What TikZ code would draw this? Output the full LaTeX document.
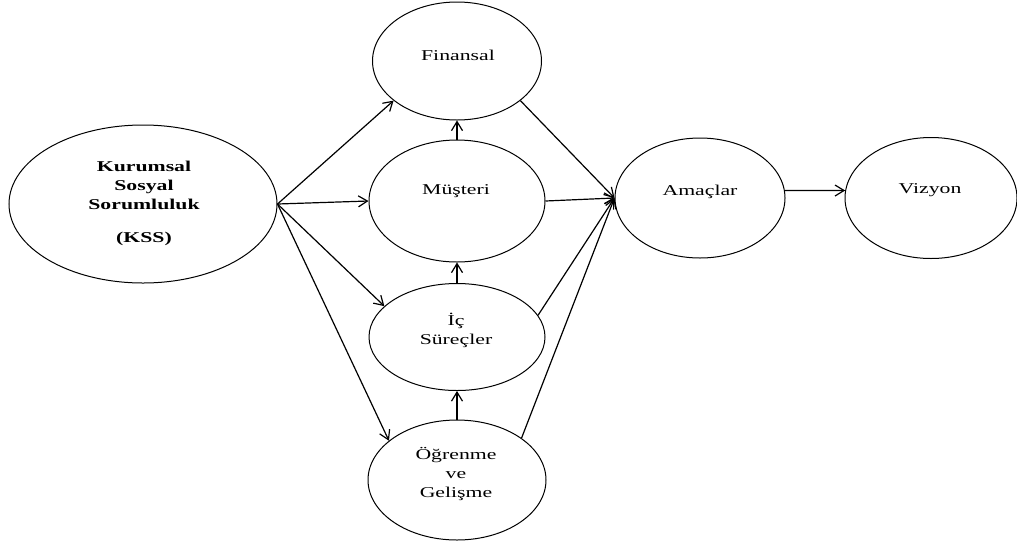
\documentclass[tikz,border=0pt]{standalone}
\usepackage{fontspec}
\setmainfont[FakeStretch=1.45]{Liberation Serif}
\usetikzlibrary{shapes.geometric,arrows.meta}
\begin{document}
\begin{tikzpicture}[x=1pt,y=-1pt,
  ell/.style={draw, ellipse, line width=1pt, inner sep=0pt},
  lbl/.style={align=center, font=\fontsize{15}{19}\selectfont, inner sep=0pt},
  arr/.style={line width=1.2pt, -{Straight Barb[length=9pt,width=11pt]}}]
\useasboundingbox (0,0) rectangle (1017,542);
% ellipses
\node[ell, minimum width=268pt, minimum height=158pt] (kss) at (143,204) {};
\node[ell, minimum width=169pt, minimum height=118pt] (fin) at (457,61) {};
\node[ell, minimum width=176pt, minimum height=122pt] (mu) at (457,201) {};
\node[ell, minimum width=176pt, minimum height=107pt] (ic) at (457,337) {};
\node[ell, minimum width=178pt, minimum height=120pt] (og) at (457,480) {};
\node[ell, minimum width=170pt, minimum height=120pt] (am) at (700,198) {};
\node[ell, minimum width=172pt, minimum height=121pt] (vz) at (931,198) {};
% texts
\node[lbl, font=\fontsize{15}{19}\selectfont\bfseries] (kss-t) at (144,203) {Kurumsal\\Sosyal\\Sorumluluk\\[14pt](KSS)};
\node[lbl] (fin-t) at (458,55) {Finansal};
\node[lbl] (mu-t) at (456,191) {Müşteri};
\node[lbl] (ic-t) at (456,330) {İç\\Süreçler};
\node[lbl] (og-t) at (456,474) {Öğrenme\\ve\\Gelişme};
\node[lbl] (am-t) at (700,192) {Amaçlar};
\node[lbl] (vz-t) at (930,190) {Vizyon};
% connectors
\draw[arr] (kss.east) -- (fin.-148);
\draw[arr] (kss.east) -- (mu.west);
\draw[arr] (kss.east) -- (ic.157);
\draw[arr] (kss.east) -- (og.150);
\draw[arr] (mu.north) -- (fin.south);
\draw[arr] (ic.north) -- (mu.south);
\draw[arr] (og.north) -- (ic.south);
\draw[arr] (fin.-32) -- (am.west);
\draw[arr] (mu.east) -- (am.west);
\draw[arr] (ic.15) -- (am.west);
\draw[arr] (og.33) -- (am.west);
\draw[arr] (am.5) -- (vz.175);
\end{tikzpicture}
\end{document}
